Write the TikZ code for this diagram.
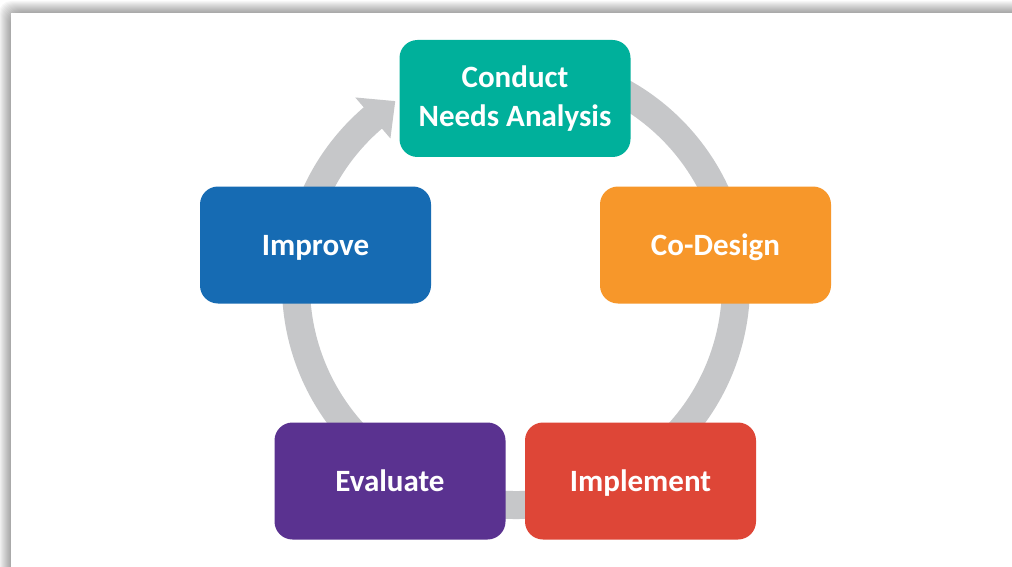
\documentclass[tikz,border=0pt]{standalone}
\usepackage{fontspec}
\setmainfont{Carlito}
\definecolor{cteal}{HTML}{00B09B}
\definecolor{corange}{HTML}{F7972A}
\definecolor{cred}{HTML}{DE4637}
\definecolor{cpurple}{HTML}{5A3290}
\definecolor{cblue}{HTML}{166BB3}
\definecolor{ringgray}{HTML}{C6C7C9}
\begin{document}
\begin{tikzpicture}[x=1pt,y=-1pt,
  stage/.style={rectangle, rounded corners=18pt, minimum width=231pt, minimum height=117pt,
    text=white, font=\fontsize{31}{39}\selectfont\bfseries, align=center, inner sep=0pt},
  oneline/.style={text height=20pt, text depth=0pt}]
\useasboundingbox (0,0) rectangle (1012,567);
\fill[white] (0,0) rectangle (1012,567);
\foreach \i in {1,...,12}
  \fill[black, opacity=0.03, rounded corners=12pt] ({11-\i},{13-\i}) rectangle (1030,590);
\fill[white] (11,13) rectangle (1030,590);
% ring
\coordinate (c) at (516,285);
\draw[ringgray, line width=28pt] (c) ++(-80:220) arc[start angle=-80, end angle=229.9, radius=220];
\path (c) ++(229.4:247) coordinate (a1)
      (c) ++(229.4:193) coordinate (a2)
      (c) ++(236.7:220) coordinate (a3);
\fill[ringgray] (a1) -- (a3) -- (a2) -- cycle;
% stages
\node[stage, fill=cteal] (conduct) at (515,98.5) {Conduct\\Needs Analysis};
\node[stage, oneline, fill=corange] (codesign) at (715.5,245) {Co-Design};
\node[stage, oneline, fill=cred] (implement) at (640.5,481) {Implement};
\node[stage, oneline, fill=cpurple] (evaluate) at (390,481) {Evaluate};
\node[stage, oneline, fill=cblue] (improve) at (315.5,245) {Improve};
\end{tikzpicture}
\end{document}
